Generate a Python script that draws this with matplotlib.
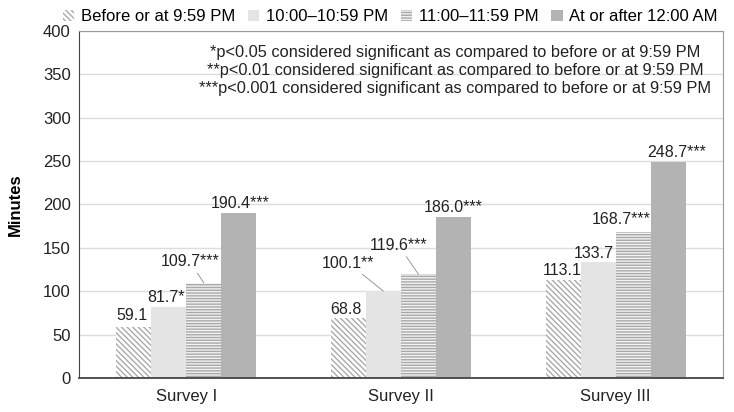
import matplotlib.pyplot as plt
import numpy as np
from matplotlib.patches import Patch

plt.rcParams['font.family'] = ['Liberation Sans', 'DejaVu Sans']
plt.rcParams['hatch.linewidth'] = 1.0

# Data
surveys = ["Survey I", "Survey II", "Survey III"]
series = ["Before or at 9:59 PM", "10:00\u201310:59 PM", "11:00\u201311:59 PM", "At or after 12:00 AM"]
before_959 = [59.1, 68.8, 113.1]
h_1000_1059 = [81.7, 100.1, 133.7]
h_1100_1159 = [109.7, 119.6, 168.7]
after_1200 = [190.4, 186.0, 248.7]
stars = [["", "", ""], ["*", "**", ""], ["***", "***", "***"], ["***", "***", "***"]]
notes = ["*p<0.05 considered significant as compared to before or at 9:59 PM",
         "**p<0.01 considered significant as compared to before or at 9:59 PM",
         "***p<0.001 considered significant as compared to before or at 9:59 PM"]

values = [before_959, h_1000_1059, h_1100_1159, after_1200]

# styles per series: facecolor, hatch, hatch/edge color
styles = [("white", "\\" * 6, "#aaaaaa"),
          ("#e4e4e4", None, "#e4e4e4"),
          ("#f2f2f2", "------", "#a8a8a8"),
          ("#b3b3b3", None, "#b3b3b3")]

# label offsets (pixels, relative to bar top center) and whether a leader line is drawn
offsets = [[(-2, 11, False), (-3, 9, False), (-1, 9, False)],
           [(-3, 10, False), (-35, 28, True), (-4, 9, False)],
           [(-14, 21, True), (-20, 29, True), (-12, 12, False)],
           [(1, 9, False), (0, 9, False), (9, 10, False)]]

fig = plt.figure(figsize=(7.34, 4.12), dpi=100)
ax = fig.add_axes([0.1076, 0.0825, 0.8774, 0.8423])

x = np.arange(1, len(surveys) + 1)
w = 0.163
for i, vals in enumerate(values):
    fc, hatch, ec = styles[i]
    pos = x + (i - 1.5) * w
    ax.bar(pos, vals, w, color=fc, hatch=hatch, edgecolor=ec, linewidth=0, zorder=2)
    for j, v in enumerate(vals):
        dx, dy, lead = offsets[i][j]
        kw = {}
        if lead:
            kw['arrowprops'] = dict(arrowstyle='-', color='#999999', lw=0.7, shrinkA=1, shrinkB=0)
        ax.annotate(f"{v:.1f}{stars[i][j]}", xy=(pos[j], v), xytext=(dx, dy),
                    textcoords='offset pixels', ha='center', va='center',
                    fontsize=11.5, color='#222222', **kw)

ax.set_xlim(0.5, 3.5)
ax.set_ylim(0, 400)
ax.set_yticks(range(0, 401, 50))
ax.set_xticks(x)
ax.set_xticklabels(surveys)
ax.tick_params(axis='both', length=0, labelsize=12, colors='#222222')
ax.tick_params(axis='x', pad=8)
ax.tick_params(axis='y', pad=6)
ax.yaxis.grid(True, color='#dcdcdc', lw=1)
ax.set_axisbelow(True)
for s in ['top', 'right']:
    ax.spines[s].set_color('#9a9a9a')
for s in ['left', 'bottom']:
    ax.spines[s].set_color('#444444')
ax.spines['bottom'].set_linewidth(1.3)
ax.set_ylabel("Minutes", fontsize=12, fontweight='bold', labelpad=14)

ax.text(0.584, 0.885, "\n".join(notes), transform=ax.transAxes, ha='center', va='center',
        fontsize=11.8, color='#222222', linespacing=1.25)

handles = [Patch(facecolor=fc, hatch=h, edgecolor=ec, linewidth=0) for fc, h, ec in styles]
ax.legend(handles, series, loc='lower right', bbox_to_anchor=(1.0, 1.005), ncol=4,
          frameon=False, fontsize=12, handlelength=0.7, handleheight=0.7,
          handletextpad=0.4, columnspacing=0.75, borderaxespad=0.1, borderpad=0.2)

fig.savefig("out.png", dpi=100)
